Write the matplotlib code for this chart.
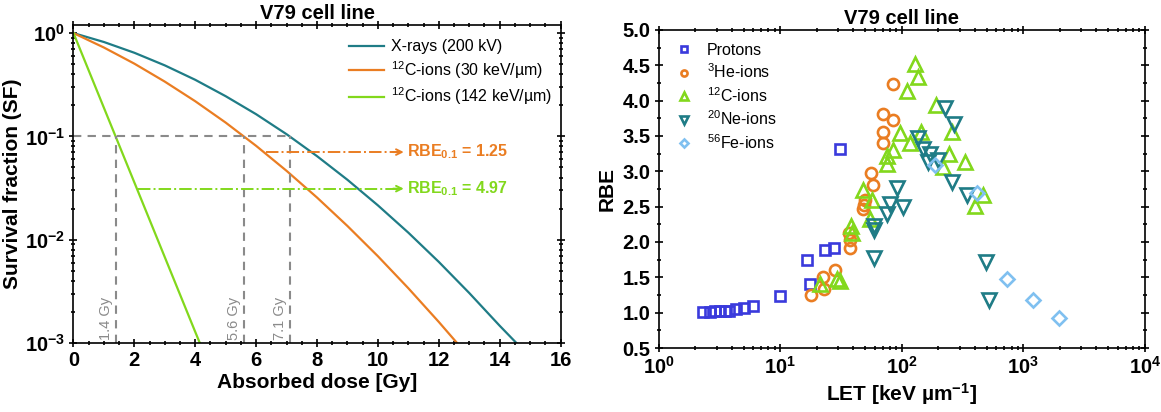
import numpy as np
import matplotlib.pyplot as plt
from matplotlib.ticker import MultipleLocator, LogLocator, NullFormatter

plt.rcParams.update({
    "font.family": ["Liberation Sans", "DejaVu Sans"],
    "mathtext.default": "regular",
    "axes.linewidth": 1.2,
})

# survival curves, V79
dose_xray = [0, 1, 2, 3, 4, 5, 6, 7, 8, 9, 10, 11, 12, 13, 14, 14.55]
sf_xray = [1, 0.82, 0.645, 0.487, 0.353, 0.245, 0.164, 0.105, 0.0644, 0.038,
           0.0215, 0.0117, 0.0061, 0.00305, 0.00147, 0.001]
dose_c30 = [0, 1, 2, 3, 4, 5, 6, 7, 8, 9, 10, 11, 12, 12.6]
sf_c30 = [1, 0.725, 0.506, 0.339, 0.219, 0.136, 0.081, 0.0464, 0.0256, 0.01357,
          0.00692, 0.00339, 0.0016, 0.001]
dose_c142 = [0, 1, 2, 3, 4, 4.15]
sf_c142 = [1, 0.189, 0.0358, 0.00677, 0.00128, 0.001]

d10 = [1.4, 5.6, 7.1]
rbe_labels = ["1.25", "4.97"]
arrow_sf = [0.0705, 0.0312]
arrow_start = [6.34, 2.12]

# RBE vs LET
let_p = [2.3, 2.65, 2.9, 3.2, 3.5, 3.8, 4.3, 5.0, 6.0, 9.9, 16.5, 17.5, 23.5, 27.5, 31]
rbe_p = [1.01, 1.01, 1.02, 1.02, 1.03, 1.03, 1.05, 1.07, 1.10, 1.24, 1.74, 1.40,
         1.89, 1.91, 3.32]
let_he = [17.9, 22.7, 23.0, 28.3, 37.6, 37.6, 36.5, 48.4, 49, 50, 55.6, 58.5, 69.8,
          70.7, 69.8, 85.5, 85.5]
rbe_he = [1.25, 1.51, 1.34, 1.60, 1.92, 2.03, 2.13, 2.47, 2.52, 2.60, 2.98, 2.80,
          3.40, 3.56, 3.81, 3.73, 4.24]
let_c = [21.3, 29.2, 31, 38.1, 38.8, 47.9, 56.8, 55, 75.3, 76.3, 84.5, 97, 110, 117,
         129, 135, 144, 191, 218, 243, 258, 333, 402, 465]
rbe_c = [1.40, 1.47, 1.45, 2.22, 2.13, 2.74, 2.59, 2.33, 3.22, 3.10, 3.30, 3.54,
         4.13, 3.40, 4.52, 4.34, 3.55, 3.94, 3.06, 3.24, 3.55, 3.13, 2.51, 2.66]
let_ne = [59.3, 59.3, 59.3, 75.3, 80.3, 91.2, 103, 137, 149, 163, 171, 200, 225,
          258, 270, 343, 495, 527]
rbe_ne = [2.22, 2.17, 1.77, 2.40, 2.54, 2.77, 2.50, 3.47, 3.31, 3.13, 3.25, 3.16,
          3.90, 2.85, 3.67, 2.66, 1.72, 1.18]
let_fe = [188, 415, 741, 1200, 1950]
rbe_fe = [3.09, 2.70, 1.47, 1.18, 0.93]

teal = "#1f7c86"
orange = "#ea7d22"
green = "#82d81c"
blue = "#3a3adc"
lightblue = "#80c0f0"
grey = "#8a8a8a"

fig = plt.figure(figsize=(11.61, 4.12), dpi=100)
ax1 = fig.add_axes([0.0633, 0.1675, 0.4195, 0.772])
ax2 = fig.add_axes([0.5673, 0.1553, 0.4188, 0.772])

# --- survival fraction panel
ax1.plot(dose_xray, sf_xray, color=teal, lw=1.6, label="X-rays (200 kV)")
ax1.plot(dose_c30, sf_c30, color=orange, lw=1.6,
         label="$^{12}$C-ions (30 keV/µm)")
ax1.plot(dose_c142, sf_c142, color=green, lw=1.6,
         label="$^{12}$C-ions (142 keV/µm)")

ax1.plot([0, d10[-1]], [0.1, 0.1], color=grey, ls=(0, (4, 3)), lw=1.5)
for d in d10:
    ax1.plot([d, d], [1e-3, 0.1], color=grey, ls=(0, (4, 3)), lw=1.5)
    ax1.text(d - 0.1, 1.08e-3, f"{d} Gy", rotation=90, ha="right", va="bottom",
             color=grey, fontsize=10.5)

for sf, x0, lab, col in zip(arrow_sf, arrow_start, rbe_labels, [orange, green]):
    ax1.plot([x0, 10.7], [sf, sf], color=col, lw=1.4, ls="-.")
    ax1.annotate("", xy=(10.85, sf), xytext=(10.5, sf),
                 arrowprops=dict(arrowstyle="->", color=col, lw=1.4,
                                 shrinkA=0, shrinkB=0))
    ax1.text(10.95, sf, f"RBE$_{{0.1}}$ = {lab}", color=col, fontsize=11.5,
             fontweight="bold", va="center", ha="left")

ax1.set_yscale("log")
ax1.set_xlim(0, 16)
ax1.set_ylim(1e-3, 1.2)
ax1.xaxis.set_major_locator(MultipleLocator(2))
ax1.xaxis.set_minor_locator(MultipleLocator(0.5))
ax1.yaxis.set_major_locator(LogLocator(base=10, numticks=10))
ax1.yaxis.set_minor_locator(LogLocator(base=10, subs=np.arange(2, 10), numticks=10))
ax1.yaxis.set_minor_formatter(NullFormatter())
ax1.set_xlabel("Absorbed dose [Gy]", fontsize=15, fontweight="bold", labelpad=2)
ax1.set_ylabel("Survival fraction (SF)", fontsize=15, fontweight="bold", labelpad=2)
ax1.set_title("V79 cell line", fontsize=14.5, fontweight="bold", pad=4)
ax1.legend(loc="upper right", bbox_to_anchor=(1.012, 1.0), frameon=False,
           fontsize=11.5, handlelength=2.2, labelspacing=0.3, borderaxespad=0.5,
           handletextpad=0.4)

# --- RBE panel
mk = dict(ls="none", mfc="none", mew=1.9)
ax2.plot(let_p, rbe_p, marker="s", ms=7, mec=blue, label="Protons", **mk)
ax2.plot(let_he, rbe_he, marker="o", ms=8, mec=orange, label="$^{3}$He-ions", **mk)
ax2.plot(let_c, rbe_c, marker="^", ms=9.5, mec=green, label="$^{12}$C-ions", **mk)
ax2.plot(let_ne, rbe_ne, marker="v", ms=9.5, mec=teal, label="$^{20}$Ne-ions", **mk)
ax2.plot(let_fe, rbe_fe, marker="D", ms=7.5, mec=lightblue, label="$^{56}$Fe-ions", **mk)

ax2.set_xscale("log")
ax2.set_xlim(1, 1e4)
ax2.set_ylim(0.5, 5.0)
ax2.yaxis.set_major_locator(MultipleLocator(0.5))
ax2.yaxis.set_minor_locator(MultipleLocator(0.25))
ax2.yaxis.set_major_formatter(plt.FormatStrFormatter("%.1f"))
ax2.xaxis.set_minor_locator(LogLocator(base=10, subs=np.arange(2, 10), numticks=10))
ax2.xaxis.set_minor_formatter(NullFormatter())
ax2.set_xlabel("LET [keV µm$^{-1}$]", fontsize=15, fontweight="bold", labelpad=2)
ax2.set_ylabel("RBE", fontsize=15, fontweight="bold", labelpad=4)
ax2.set_title("V79 cell line", fontsize=14.5, fontweight="bold", pad=4)
ax2.legend(loc="upper left", frameon=False, fontsize=11.5, markerscale=0.55,
           labelspacing=0.3, borderaxespad=0.4, handletextpad=0.6,
           handlelength=1.6)

for ax in (ax1, ax2):
    ax.tick_params(which="both", direction="inout", top=True, right=True, width=1.2)
    ax.tick_params(which="major", length=6, labelsize=14.5, pad=3)
    ax.tick_params(which="minor", length=3.5)
    for lab in ax.get_xticklabels() + ax.get_yticklabels():
        lab.set_fontweight("bold")

fig.savefig("out.png", dpi=100)
